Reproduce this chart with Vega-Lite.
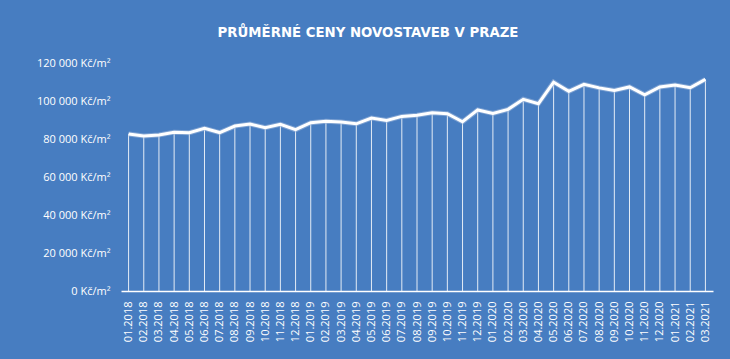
{
  "$schema": "https://vega.github.io/schema/vega-lite/v6.json",
  "autosize": "none",
  "width": 592,
  "height": 228,
  "padding": {"left": 121, "top": 63, "right": 17, "bottom": 68},
  "background": "#477dc1",
  "title": {
    "text": "PRŮMĚRNÉ CENY NOVOSTAVEB V PRAZE",
    "color": "white",
    "font": "DejaVu Sans",
    "fontSize": 13.3,
    "fontWeight": "bold",
    "anchor": "middle",
    "dx": -49,
    "offset": 18
  },
  "config": {
    "view": {"stroke": null},
    "axis": {"labelFont": "Open Sans", "labelColor": "white", "labelFontSize": 11}
  },
  "data": {
    "values": [
      {"m": "01.2018", "v": 82600}, {"m": "02.2018", "v": 81600}, {"m": "03.2018", "v": 82100},
      {"m": "04.2018", "v": 83600}, {"m": "05.2018", "v": 83300}, {"m": "06.2018", "v": 85600},
      {"m": "07.2018", "v": 83400}, {"m": "08.2018", "v": 86800}, {"m": "09.2018", "v": 87900},
      {"m": "10.2018", "v": 85900}, {"m": "11.2018", "v": 87700}, {"m": "12.2018", "v": 84900},
      {"m": "01.2019", "v": 88600}, {"m": "02.2019", "v": 89400}, {"m": "03.2019", "v": 89000},
      {"m": "04.2019", "v": 88000}, {"m": "05.2019", "v": 91000}, {"m": "06.2019", "v": 89800},
      {"m": "07.2019", "v": 91900}, {"m": "08.2019", "v": 92500}, {"m": "09.2019", "v": 93800},
      {"m": "10.2019", "v": 93300}, {"m": "11.2019", "v": 89100}, {"m": "12.2019", "v": 95300},
      {"m": "01.2020", "v": 93500}, {"m": "02.2020", "v": 95600}, {"m": "03.2020", "v": 100900},
      {"m": "04.2020", "v": 98600}, {"m": "05.2020", "v": 109900}, {"m": "06.2020", "v": 105100},
      {"m": "07.2020", "v": 108800}, {"m": "08.2020", "v": 106900}, {"m": "09.2020", "v": 105600},
      {"m": "10.2020", "v": 107400}, {"m": "11.2020", "v": 103300}, {"m": "12.2020", "v": 107400},
      {"m": "01.2021", "v": 108400}, {"m": "02.2021", "v": 107000}, {"m": "03.2021", "v": 111400}
    ]
  },
  "encoding": {
    "x": {
      "field": "m", "type": "ordinal", "sort": null,
      "scale": {"type": "point", "padding": 0.5},
      "axis": {
        "title": null, "labelAngle": -90, "ticks": false, "labelPadding": 10,
        "domainColor": "white", "domainWidth": 1.5, "grid": false
      }
    },
    "y": {
      "field": "v", "type": "quantitative",
      "scale": {"domain": [0, 120000], "nice": false},
      "axis": {
        "title": null, "values": [0, 20000, 40000, 60000, 80000, 100000, 120000],
        "labelExpr": "replace(format(datum.value, ',d'), ',', ' ') + ' Kč/m²'",
        "domain": false, "ticks": false, "grid": false, "labelPadding": 11
      }
    }
  },
  "layer": [
    {"mark": {"type": "rule", "color": "white", "strokeWidth": 1, "opacity": 0.85}, "encoding": {"y2": {"datum": 0}}},
    {"mark": {"type": "line", "color": "#9fb7dc", "strokeWidth": 5, "opacity": 0.6}},
    {"mark": {"type": "line", "color": "white", "strokeWidth": 3}}
  ]
}
